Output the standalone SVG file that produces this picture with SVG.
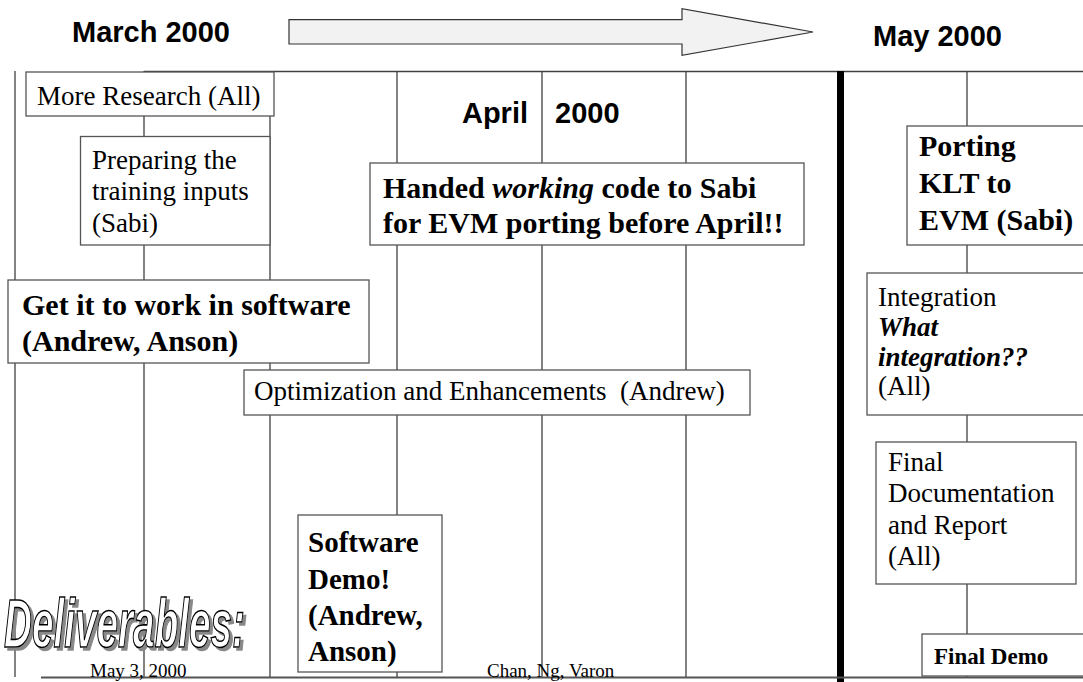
<svg xmlns="http://www.w3.org/2000/svg" width="1083" height="682" viewBox="0 0 1083 682">
<style>
.box{fill:#fff;stroke:#555;stroke-width:1.3}
.ln{stroke:#404040;stroke-width:1.3;fill:none}
.hd{font-family:"Liberation Sans",Arial,sans-serif;font-weight:bold;font-size:29px;fill:#000}
.r{font-family:"Liberation Serif","Times New Roman",serif;font-size:27px;fill:#000}
.bi{font-weight:bold;font-style:italic}
.b{font-family:"Liberation Serif","Times New Roman",serif;font-size:30px;font-weight:bold;fill:#000}
.ft{font-family:"Liberation Serif","Times New Roman",serif;font-size:19px;fill:#000}
.dl{font-family:"Liberation Sans Narrow","Liberation Sans",Arial,sans-serif;font-weight:bold;font-style:italic;font-size:68px;fill:#fff;stroke:#000;stroke-width:1.6}
</style>
<defs>
<filter id="shadow" x="-5%" y="-20%" width="115%" height="150%">
<feOffset in="SourceAlpha" dx="3" dy="3" result="off"/>
<feFlood flood-color="#888"/>
<feComposite in2="off" operator="in" result="sh"/>
<feMerge><feMergeNode in="sh"/><feMergeNode in="SourceGraphic"/></feMerge>
</filter>
</defs>
<rect width="1083" height="682" fill="#fff"/>
<g id="connectors">
<line class="ln" x1="144" y1="71.5" x2="1083" y2="71.5"/>
<line class="ln" x1="15" y1="71" x2="15" y2="677"/>
<line class="ln" x1="144" y1="71" x2="144" y2="677"/>
<line class="ln" x1="270" y1="71" x2="270" y2="677"/>
<line class="ln" x1="397" y1="71" x2="397" y2="677"/>
<line class="ln" x1="542" y1="71" x2="542" y2="677"/>
<line class="ln" x1="686" y1="71" x2="686" y2="677"/>
<line class="ln" x1="967" y1="71" x2="967" y2="677"/>
<line stroke="#000" stroke-width="7" x1="840.5" y1="71" x2="840.5" y2="682"/>
<line stroke="#555" stroke-width="2" x1="41" y1="677.5" x2="1083" y2="677.5"/>
</g>
<g id="timeline-arrow">
<polygon points="289,19.7 682,19.7 682,8.7 813,32 682,55.4 682,44 289,44" fill="#f2f2f2" stroke="#333" stroke-width="1.2"/>
</g>
<g id="label-march"><text class="hd" x="72" y="42">March 2000</text></g>
<g id="label-may"><text class="hd" x="873" y="46">May 2000</text></g>
<g id="label-april"><text class="hd" x="528" y="123" text-anchor="end">April</text><text class="hd" x="555" y="123">2000</text></g>
<g id="more-research">
<rect class="box" x="26" y="72" width="248" height="44"/>
<text class="r" x="37" y="105">More Research (All)</text>
</g>
<g id="preparing">
<rect class="box" x="80.5" y="136.5" width="189.5" height="108.5"/>
<text class="r" x="92" y="169">Preparing the<tspan x="92" y="200">training inputs</tspan><tspan x="92" y="232">(Sabi)</tspan></text>
</g>
<g id="handed">
<rect class="box" x="370" y="163" width="434" height="82"/>
<text class="b" x="383" y="198">Handed <tspan font-style="italic">working</tspan> code to Sabi<tspan x="383" y="233">for EVM porting before April!!</tspan></text>
</g>
<g id="porting">
<rect class="box" x="907" y="126" width="190" height="119"/>
<text class="b" x="919" y="156">Porting<tspan x="919" y="193">KLT to</tspan><tspan x="919" y="230">EVM (Sabi)</tspan></text>
</g>
<g id="get-it-to-work">
<rect class="box" x="8" y="280" width="361" height="83"/>
<text class="b" x="22" y="315">Get it to work in software<tspan x="22" y="351">(Andrew, Anson)</tspan></text>
</g>
<g id="optimization">
<rect class="box" x="244" y="370" width="506" height="45"/>
<text class="r" x="254" y="400" xml:space="preserve">Optimization and Enhancements  (Andrew)</text>
</g>
<g id="integration">
<rect class="box" x="867" y="273" width="230" height="142"/>
<text class="r" x="878" y="306">Integration<tspan class="bi" x="878" y="336">What</tspan><tspan class="bi" x="878" y="366">integration??</tspan><tspan x="878" y="395">(All)</tspan></text>
</g>
<g id="final-documentation">
<rect class="box" x="876" y="442" width="200" height="142"/>
<text class="r" x="888" y="471">Final<tspan x="888" y="502">Documentation</tspan><tspan x="888" y="534">and Report</tspan><tspan x="888" y="565">(All)</tspan></text>
</g>
<g id="software-demo">
<rect class="box" x="298" y="515" width="144" height="157"/>
<text class="b" x="308" y="552" style="font-size:29px">Software<tspan x="308" y="588.5">Demo!</tspan><tspan x="308" y="625">(Andrew,</tspan><tspan x="308" y="661">Anson)</tspan></text>
</g>
<g id="final-demo">
<rect class="box" x="922" y="634" width="175" height="42"/>
<text class="b" x="934" y="664" style="font-size:23px">Final Demo</text>
</g>
<g id="deliverables">
<text class="dl" x="4" y="647" textLength="241" lengthAdjust="spacingAndGlyphs" filter="url(#shadow)">Deliverables:</text>
</g>
<g id="footer">
<text class="ft" x="90" y="677">May 3, 2000</text>
<text class="ft" x="487" y="677">Chan, Ng, Varon</text>
</g>
</svg>
